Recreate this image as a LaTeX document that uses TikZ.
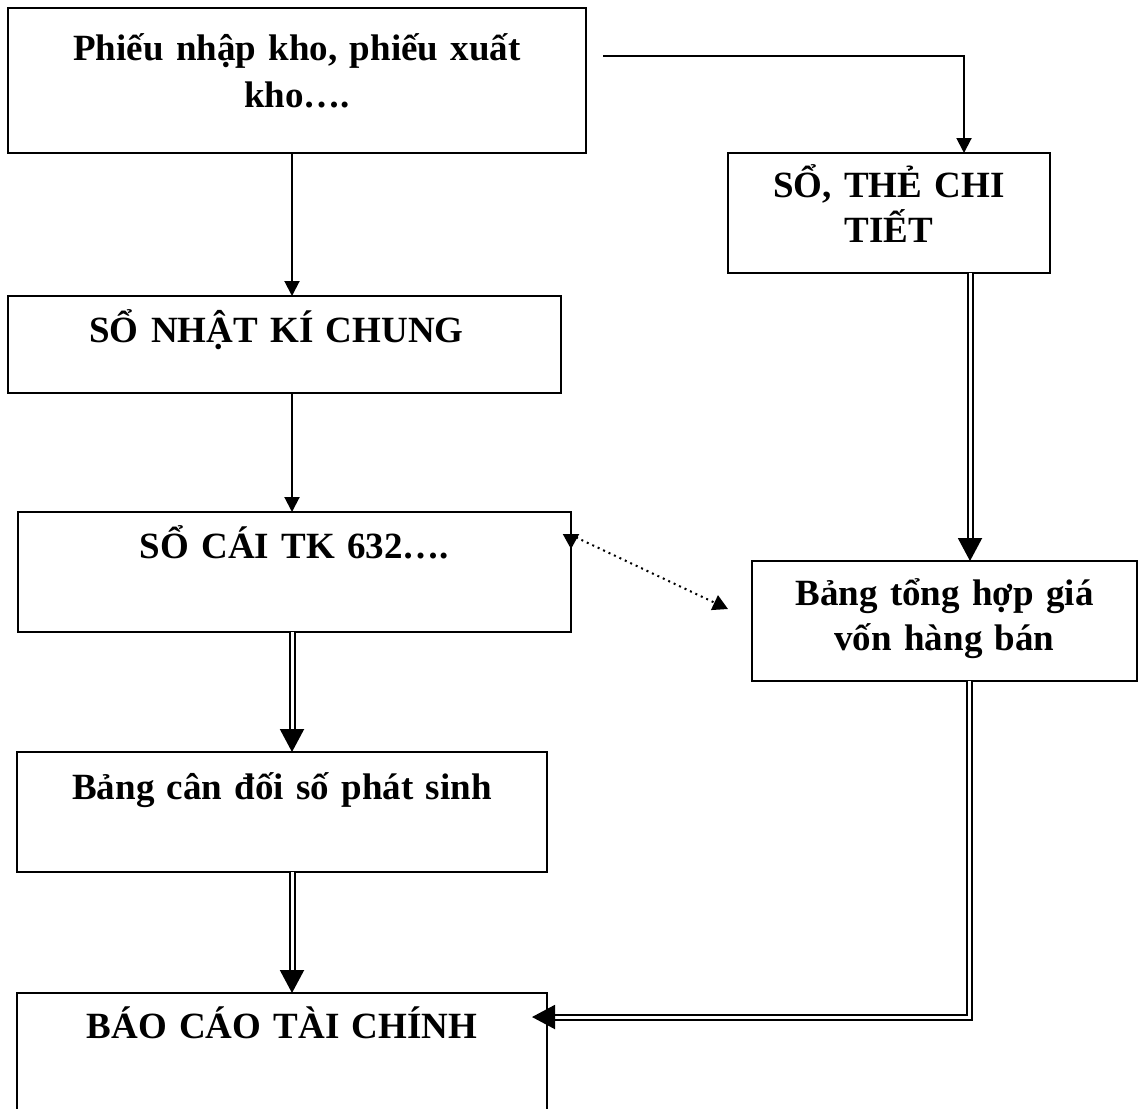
\documentclass[tikz,border=0pt]{standalone}
\usepackage{fontspec}
\setmainfont{Liberation Serif}
\usetikzlibrary{arrows.meta,calc}
\begin{document}
\begin{tikzpicture}[x=0.5pt,y=-0.5pt,
  box/.style={draw, line width=1.2pt, rectangle, anchor=north west,
    inner xsep=0pt, inner ysep=0pt, outer sep=0pt, align=center,
    font=\bfseries\fontsize{18.5pt}{22.5pt}\selectfont},
  arr/.style={line width=1pt, -{Triangle[width=7.5pt,length=7.5pt]}},
  dbl/.style={double, line width=1pt, double distance=1.5pt,
    -{Triangle[width=12pt,length=11.5pt]}},
  dotarr/.style={line width=1pt, dash pattern=on 1pt off 2pt,
    {Triangle[width=8pt,length=7.5pt]}-{Triangle[width=8pt,length=7.5pt]}},
]
\path[use as bounding box] (0,0) rectangle (1139,1108);

% boxes
\node[box, text width=289pt, text height=26pt, text depth=46.5pt,
  font=\bfseries\fontsize{18.5pt}{24pt}\selectfont] (b1) at (8,8)
  {Phiếu nhập kho, phiếu xuất\\kho….};
\node[box, text width=161pt, text height=22pt, text depth=38pt] (b2) at (728,153)
  {SỔ, THẺ CHI\\TIẾT};
\node[box, text width=276.5pt, text height=23pt, text depth=25.5pt] (b3) at (8,296)
  {SỔ NHẬT KÍ CHUNG\hspace*{8pt}\null};
\node[box, text width=276.5pt, text height=23pt, text depth=37pt] (b4) at (18,512)
  {SỔ CÁI TK 632….};
\node[box, text width=192.5pt, text height=22pt, text depth=38pt] (b5) at (752,561)
  {Bảng tổng hợp giá\\vốn hàng bán};
\node[box, text width=265pt, text height=23.5pt, text depth=36.5pt] (b6) at (17,752)
  {Bảng cân đối số phát sinh};
\node[box, text width=265pt, text height=22.5pt, text depth=47.5pt] (b7) at (17,993)
  {BÁO CÁO TÀI CHÍNH};

% connector columns
\coordinate (colL) at (292,0);
\coordinate (colR) at (964,0);
\coordinate (colD) at (970,0);
\coordinate (colE) at (969,0);
\coordinate (s2) at (603,56);

% left chain
\draw[arr] (b1.south -| colL) -- (b3.north -| colL);
\draw[arr] (b3.south -| colL) -- (b4.north -| colL);
\draw[dbl] (b4.south -| colL) -- (b6.north -| colL);
\draw[dbl] (b6.south -| colL) -- (b7.north -| colL);

% right chain
\draw[arr] (s2) -- (s2 -| colR) -- (b2.north -| colR);
\draw[dbl] (b2.south -| colD) -- (b5.north -| colD);
\draw[dbl] (b5.south -| colE) |- ($(b7.north east)+(-15,24)$);

% dotted link between the ledger and the cost summary
\draw[dotarr] ($(b4.north east)+(0,37)$) -- ($(b4.north east)+(0,23)$)
  -- ($(b5.west)+(-24,-12)$);
\end{tikzpicture}
\end{document}
